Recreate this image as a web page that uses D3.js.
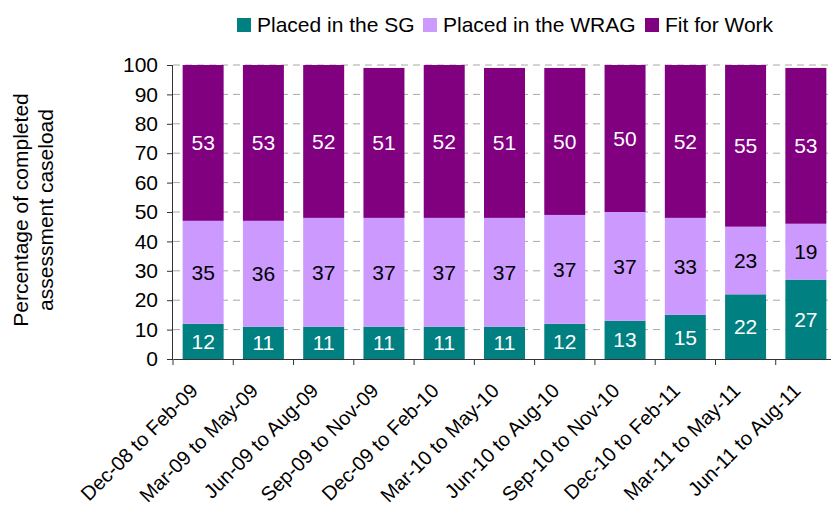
<!DOCTYPE html>
<html>
<head>
<meta charset="utf-8">
<script src="https://cdn.jsdelivr.net/npm/d3@7"></script>
<style>
  body { margin: 0; background: #fff; }
  svg { display: block; font-family: "Liberation Sans", Arial, sans-serif; }
</style>
</head>
<body>
<script>
var w = 831,
  h = 510,
  marginLeft = 173,
  marginTop = 65,
  plotW = 663,
  plotH = 294;

var periods = ["Dec-08 to Feb-09", "Mar-09 to May-09", "Jun-09 to Aug-09", "Sep-09 to Nov-09",
  "Dec-09 to Feb-10", "Mar-10 to May-10", "Jun-10 to Aug-10", "Sep-10 to Nov-10",
  "Dec-10 to Feb-11", "Mar-11 to May-11", "Jun-11 to Aug-11"];
var seriesNames = ["Placed in the SG", "Placed in the WRAG", "Fit for Work"];
var sg = [12, 11, 11, 11, 11, 11, 12, 13, 15, 22, 27];
var wrag = [35, 36, 37, 37, 37, 37, 37, 37, 33, 23, 19];
var ffw = [53, 53, 52, 51, 52, 51, 50, 50, 52, 55, 53];
var yTicks = [0, 10, 20, 30, 40, 50, 60, 70, 80, 90, 100];

var colors = ["#008080", "#cc99ff", "#800080"];
var labelColors = ["#ffffff", "#000000", "#ffffff"];

var rows = periods.map((p, i) => ({ period: p, sg: sg[i], wrag: wrag[i], ffw: ffw[i] }));
var keys = ["sg", "wrag", "ffw"];
var stacked = d3.stack().keys(keys)(rows);

var svg = d3.select("body")
  .append("svg")
  .attr("width", w)
  .attr("height", h);

var xScale = d3.scaleBand().domain(periods).range([0, plotW]).paddingInner(0.32).paddingOuter(0.16);
var yScale = d3.scaleLinear().domain([0, 100]).range([plotH, 0]);

var plot = svg.append("g")
  .attr("transform", `translate(${marginLeft}, ${marginTop})`);

// gridlines
plot.selectAll(".grid")
  .data(yTicks.filter(d => d > 0))
  .enter()
  .append("line")
  .attr("x1", 0)
  .attr("x2", plotW)
  .attr("y1", d => yScale(d))
  .attr("y2", d => yScale(d))
  .attr("stroke", "#a8a8a8")
  .attr("stroke-width", 1)
  .attr("stroke-dasharray", "7,5");

// bars
var layer = plot.selectAll(".layer")
  .data(stacked)
  .enter()
  .append("g")
  .attr("fill", (d, i) => colors[i]);

layer.selectAll("rect")
  .data(d => d)
  .enter()
  .append("rect")
  .attr("x", d => xScale(d.data.period))
  .attr("width", xScale.bandwidth())
  .attr("y", d => yScale(d[1]))
  .attr("height", d => yScale(d[0]) - yScale(d[1]));

// value labels
stacked.forEach((s, i) => {
  plot.selectAll(".lbl" + i)
    .data(s)
    .enter()
    .append("text")
    .attr("x", d => xScale(d.data.period) + xScale.bandwidth() / 2)
    .attr("y", d => yScale((d[0] + d[1]) / 2))
    .attr("dy", "0.36em")
    .attr("text-anchor", "middle")
    .attr("fill", labelColors[i])
    .style("font-size", "21px")
    .text(d => d[1] - d[0]);
});

// y axis
var yAxis = d3.axisLeft(yScale).tickValues(yTicks).tickSize(6).tickPadding(9);
var yG = plot.append("g").call(yAxis);
yG.select(".domain").attr("stroke", "#333").attr("d", `M-0.5,${plotH}V0`);
yG.selectAll(".tick line").attr("stroke", "#333");
yG.selectAll("text").style("font-size", "21px").attr("fill", "#000")
  .style("font-family", "Liberation Sans, Arial, sans-serif");

// x axis
var xAxis = d3.axisBottom(xScale).tickSize(0).tickSizeOuter(0);
var xG = plot.append("g").attr("transform", `translate(0, ${plotH})`).call(xAxis);
xG.select(".domain").attr("stroke", "#333");
xG.selectAll(".tick text")
  .attr("text-anchor", "end")
  .attr("transform", "translate(-9, 28) rotate(-45)")
  .attr("dy", "0.35em")
  .attr("y", 0)
  .style("font-size", "20px")
  .attr("fill", "#000")
  .style("font-family", "Liberation Sans, Arial, sans-serif");
// tick marks between categories
plot.selectAll(".xtick")
  .data(periods)
  .enter()
  .append("line")
  .attr("x1", d => xScale(d) - xScale.step() * xScale.paddingInner() / 2)
  .attr("x2", d => xScale(d) - xScale.step() * xScale.paddingInner() / 2)
  .attr("y1", plotH)
  .attr("y2", plotH + 6)
  .attr("stroke", "#333");

// y title
svg.append("text")
  .attr("transform", `translate(28, ${marginTop + plotH / 2 - 2}) rotate(-90)`)
  .attr("text-anchor", "middle")
  .style("font-size", "21px")
  .selectAll("tspan")
  .data(["Percentage of completed", "assessment caseload"])
  .enter()
  .append("tspan")
  .attr("x", 0)
  .attr("dy", (d, i) => i === 0 ? 0 : 25)
  .text(d => d);

// legend
var legendX = [237, 423, 645];
var legend = svg.selectAll(".legend")
  .data(seriesNames)
  .enter()
  .append("g")
  .attr("transform", (d, i) => `translate(${legendX[i]}, 18)`);
legend.append("rect")
  .attr("width", 14)
  .attr("height", 14)
  .attr("fill", (d, i) => colors[i]);
legend.append("text")
  .attr("x", 20)
  .attr("y", 14)
  .style("font-size", "21px")
  .text(d => d);
</script>
</body>
</html>
